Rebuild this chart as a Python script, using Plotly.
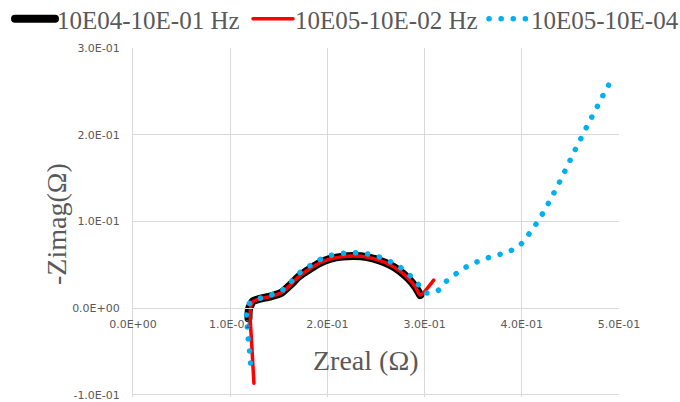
import plotly.graph_objects as go

# ---- data ----
black_name = "10E04-10E-01 Hz"
black_x = [0.1188, 0.1192, 0.1212, 0.1235, 0.1305, 0.1418, 0.1531, 0.1621, 0.1706, 0.1809,
           0.1919, 0.2035, 0.2158, 0.2282, 0.2405, 0.2528, 0.2641, 0.2740, 0.2830, 0.2905, 0.2955]
black_y = [-0.0115, -0.0020, 0.0040, 0.0080, 0.0108, 0.0135, 0.0180, 0.0270, 0.0365, 0.0445,
           0.0520, 0.0570, 0.0594, 0.0600, 0.0588, 0.0553, 0.0500, 0.0432, 0.0345, 0.0245, 0.0150]

red_name = "10E05-10E-02 Hz"
red_x = [0.1244, 0.1223, 0.1205, 0.1212, 0.1235, 0.1305, 0.1418, 0.1531, 0.1621, 0.1706, 0.1809,
         0.1919, 0.2035, 0.2158, 0.2282, 0.2405, 0.2528, 0.2641, 0.2740, 0.2830, 0.2905, 0.2955, 0.3094]
red_y = [-0.0865, -0.0450, -0.0080, 0.0020, 0.0075, 0.0108, 0.0135, 0.0180, 0.0270, 0.0365, 0.0445,
         0.0520, 0.0570, 0.0594, 0.0600, 0.0588, 0.0553, 0.0500, 0.0432, 0.0345, 0.0245, 0.0150, 0.0323]

blue_name = "10E05-10E-04"
blue_x = [0.1209, 0.1199, 0.1185, 0.1176, 0.1168, 0.1195, 0.1305, 0.1418, 0.1531, 0.1621, 0.1706,
          0.1809, 0.1919, 0.2035, 0.2158, 0.2282, 0.2405, 0.2528, 0.2641, 0.2747, 0.2844, 0.2932,
          0.3018, 0.3132, 0.3214, 0.3309, 0.3412, 0.3525, 0.3641, 0.3759, 0.3878, 0.3985, 0.4060,
          0.4135, 0.4203, 0.4265, 0.4324, 0.4381, 0.4437, 0.4491, 0.4546, 0.4601, 0.4656, 0.4714,
          0.4772, 0.4830, 0.4889, 0.4947]
blue_y = [-0.0634, -0.0496, -0.0354, -0.0220, -0.0081, 0.0050, 0.0112, 0.0150, 0.0200, 0.0296, 0.0400,
          0.0481, 0.0557, 0.0608, 0.0631, 0.0638, 0.0626, 0.0592, 0.0539, 0.0473, 0.0381, 0.0277,
          0.0176, 0.0196, 0.0300, 0.0384, 0.0465, 0.0527, 0.0577, 0.0615, 0.0657, 0.0730, 0.0834,
          0.0949, 0.1069, 0.1191, 0.1315, 0.1438, 0.1565, 0.1692, 0.1819, 0.1941, 0.2065, 0.2191,
          0.2315, 0.2442, 0.2564, 0.2690]

x_tickvals = [0.0, 0.1, 0.2, 0.3, 0.4, 0.5]
x_ticktext = ["0.0E+00", "1.0E-01", "2.0E-01", "3.0E-01", "4.0E-01", "5.0E-01"]
y_tickvals = [-0.1, 0.0, 0.1, 0.2, 0.3]
y_ticktext = ["-1.0E-01", "0.0E+00", "1.0E-01", "2.0E-01", "3.0E-01"]
x_title = "Zreal (Ω)"
y_title = "-Zimag(Ω)"

# ---- styles ----
GREY = "#595959"
GRID = "#d9d9d9"
SERIF = "Liberation Serif"
TICKFONT = dict(family="DejaVu Sans", size=11, color=GREY)
LEGFONT = dict(family=SERIF, size=25, color=GREY)
TITLEFONT = dict(family=SERIF, size=28, color=GREY)

fig = go.Figure()
fig.add_trace(go.Scatter(x=black_x, y=black_y, name=black_name, mode="lines",
                         line=dict(color="#000000", width=8, shape="spline", smoothing=0.6),
                         legend="legend"))
fig.add_trace(go.Scatter(x=red_x, y=red_y, name=red_name, mode="lines",
                         line=dict(color="#ff0000", width=3.5, shape="spline", smoothing=0.6),
                         legend="legend2"))
fig.add_trace(go.Scatter(x=blue_x, y=blue_y, name=blue_name, mode="lines",
                         line=dict(color="rgb(0,176,240)", width=5.5, dash="3px,9px",
                                   shape="spline", smoothing=0.5),
                         legend="legend3"))

L, R, T, B = 133, 61, 48, 5
W, H = 680, 402
pw, ph = W - L - R, H - T - B
Y0, Y1 = -0.1025, 0.3

def px2x(p):
    return (p - L) / pw

def py2y(p):
    return (H - B - p) / ph

leg_common = dict(orientation="h", yanchor="top", xanchor="left", font=LEGFONT,
                  bgcolor="rgba(0,0,0,0)", borderwidth=0, itemwidth=40,
                  y=py2y(-4))

fig.update_layout(
    width=W, height=H,
    margin=dict(l=L, r=R, t=T, b=B, autoexpand=False),
    paper_bgcolor="white", plot_bgcolor="white",
    showlegend=True,
    legend=dict(leg_common, x=px2x(7)),
    legend2=dict(leg_common, x=px2x(245)),
    legend3=dict(leg_common, x=px2x(481)),
    hovermode=False,
    xaxis=dict(range=[0, 0.5], tickvals=x_tickvals, ticktext=x_ticktext,
               tickfont=TICKFONT, showgrid=True, gridcolor=GRID, gridwidth=1,
               zeroline=False, showline=True, linecolor=GRID, linewidth=1,
               anchor="free", position=(0 - Y0) / (Y1 - Y0),
               ticks="", ticklabelstandoff=6),
    yaxis=dict(range=[Y0, Y1], tickvals=y_tickvals, ticktext=y_ticktext,
               tickfont=TICKFONT, showgrid=True, gridcolor=GRID, gridwidth=1,
               zeroline=False, showline=True, linecolor=GRID, linewidth=1,
               ticks="", ticklabelstandoff=10, ticklabeloverflow="allow"),
    annotations=[
        dict(text=x_title, xref="paper", yref="paper", x=px2x(366), y=py2y(360),
             xanchor="center", yanchor="middle", showarrow=False, font=TITLEFONT),
        dict(text=y_title, xref="paper", yref="paper", x=px2x(56), y=py2y(224),
             xanchor="center", yanchor="middle", showarrow=False, font=TITLEFONT,
             textangle=-90),
    ],
)

post = """
var gd = document.getElementById('{plot_id}');
gd.querySelectorAll('path.js-line').forEach(function(p){
  p.style.strokeLinecap = 'round';
  p.style.strokeLinejoin = 'round';
  var s = p.style.stroke || '';
  if (s.replace(/\\s/g,'').indexOf('0,176,240') >= 0) {
    p.style.strokeDasharray = '0.1px,12px';
  }
  if (p.closest('.infolayer')) {
    p.setAttribute('transform', 'translate(3,0)');
  }
});
"""

fig.write_html("out.html", config={"displayModeBar": False}, post_script=post)
